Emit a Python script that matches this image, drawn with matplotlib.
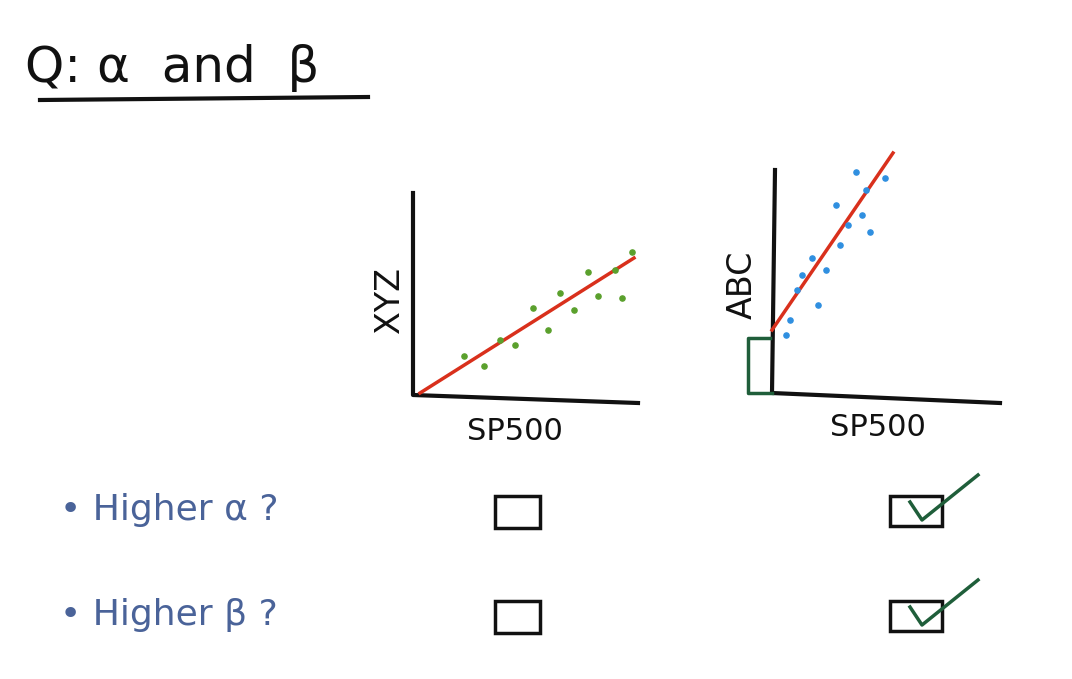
import matplotlib
matplotlib.use('Agg')
import matplotlib.pyplot as plt

# scatter data for the two sketches (pixel space of the sketch)
xyz_x = [464, 484, 500, 515, 533, 548, 560, 574, 588, 598, 615, 622, 632]
xyz_y = [356, 366, 340, 345, 308, 330, 293, 310, 272, 296, 270, 298, 252]
xyz_fit_x = [420, 634]
xyz_fit_y = [393, 258]

abc_x = [786, 790, 797, 802, 812, 818, 826, 836, 840, 848, 856, 862, 866, 870, 885]
abc_y = [335, 320, 290, 275, 258, 305, 270, 205, 245, 225, 172, 215, 190, 232, 178]
abc_fit_x = [772, 893]
abc_fit_y = [330, 153]

questions = ['Higher \u03b1 ?', 'Higher \u03b2 ?']
xyz_answers = [False, False]
abc_answers = [True, True]

ink = '#111111'
blue_ink = '#4a6399'
green_ink = '#1f5e3a'

fig = plt.figure(figsize=(10.72, 6.79), dpi=100)
ax = fig.add_axes([0, 0, 1, 1])
ax.set_xlim(0, 1072)
ax.set_ylim(679, 0)
ax.axis('off')

# title
ax.text(25, 68, 'Q: \u03b1  and  \u03b2', fontsize=36, color=ink, va='center')
ax.plot([40, 368], [100, 97], color=ink, lw=3)

# left chart axes
ax.plot([413, 413, 638], [193, 395, 403], color=ink, lw=3)
ax.plot(xyz_fit_x, xyz_fit_y, color='#d9301c', lw=2.5)
ax.scatter(xyz_x, xyz_y, s=14, color='#5aa02c', marker='o', zorder=3)
ax.text(390, 300, 'XYZ', rotation=90, fontsize=24, color=ink, ha='center', va='center')
ax.text(515, 432, 'SP500', fontsize=22, color=ink, ha='center', va='center')

# right chart axes
ax.plot([775, 772, 1000], [170, 393, 403], color=ink, lw=3)
ax.plot([770, 748, 748, 772], [338, 338, 393, 393], color=green_ink, lw=2.5)
ax.plot(abc_fit_x, abc_fit_y, color='#d9301c', lw=2.5)
ax.scatter(abc_x, abc_y, s=14, color='#2f8fe0', marker='o', zorder=3)
ax.text(742, 285, 'ABC', rotation=90, fontsize=24, color=ink, ha='center', va='center')
ax.text(878, 428, 'SP500', fontsize=22, color=ink, ha='center', va='center')

# questions with check boxes
rows_y = [510, 615]
for q, y, a1, a2 in zip(questions, rows_y, xyz_answers, abc_answers):
    ax.text(60, y, '\u2022 ' + q, fontsize=26, color=blue_ink, va='center')
    ax.add_patch(plt.Rectangle((495, y - 14), 45, 32, fill=False, ec=ink, lw=2.5))
    ax.add_patch(plt.Rectangle((890, y - 14), 52, 30, fill=False, ec=ink, lw=2.5))
    if a2:
        ax.plot([910, 922, 978], [y - 8, y + 10, y - 35], color=green_ink, lw=2.5)

fig.savefig('out.png', dpi=100)
